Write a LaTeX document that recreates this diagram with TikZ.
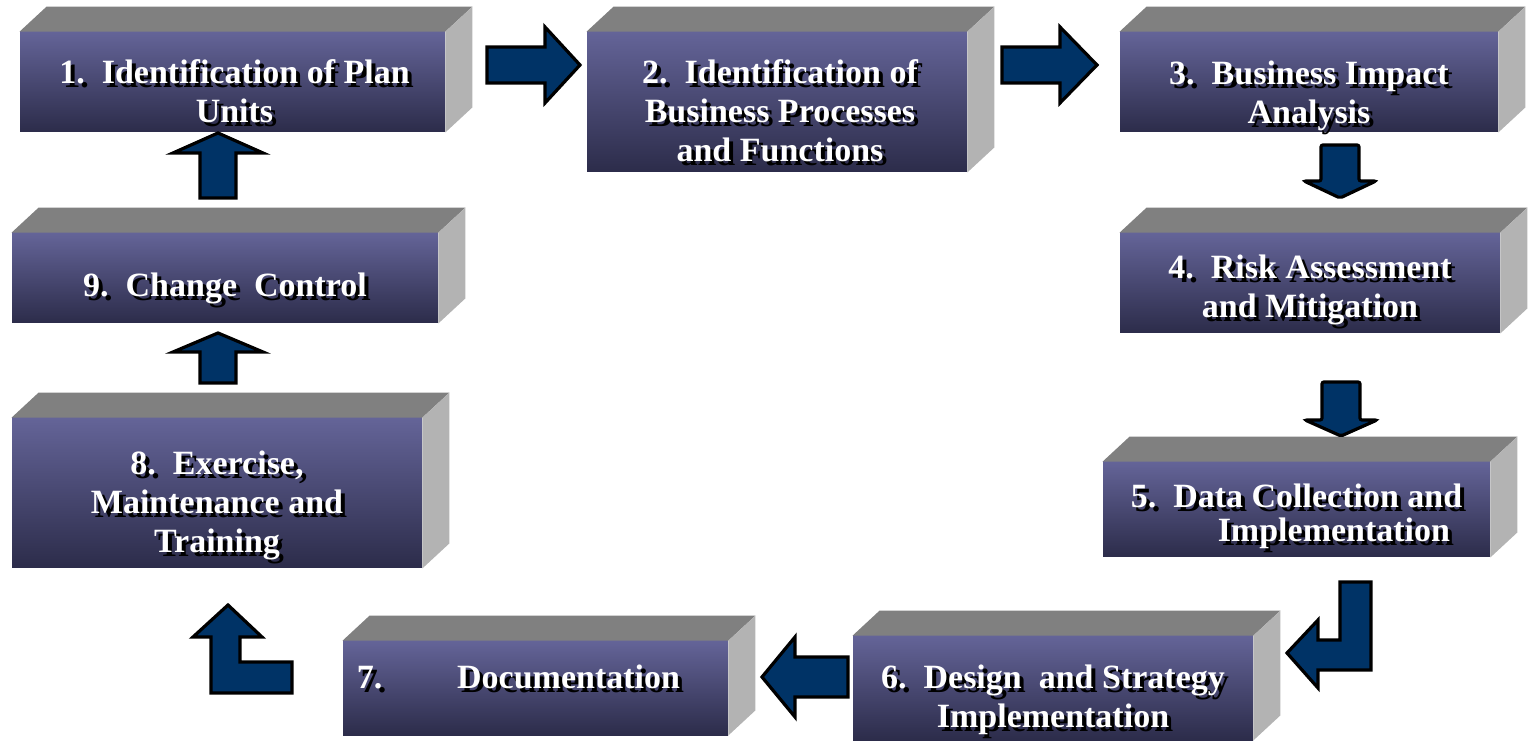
\documentclass[tikz,border=0pt]{standalone}
\usepackage{fontspec}
\setmainfont{Liberation Serif}
\usetikzlibrary{fit,calc}
\definecolor{facetop}{RGB}{100,100,152}
\definecolor{facebot}{RGB}{44,44,74}
\definecolor{topgray}{RGB}{128,128,128}
\definecolor{sidegray}{RGB}{179,179,179}
\definecolor{navy}{RGB}{0,51,102}
\tikzset{
  face/.style={inner sep=0pt, top color=facetop, bottom color=facebot, draw=none},
  txt/.style={text=white, font=\fontsize{17}{19.5}\selectfont\bfseries, align=center, inner sep=0pt},
  barrow/.style={fill=navy, draw=black, line width=1.6pt},
}
% top and right faces of a box
\newcommand\sides[1]{%
  \fill[topgray] (#1.north west) -- ++(27,-25) -- ($(#1.north east)+(27,-25)$) -- (#1.north east) -- cycle;
  \fill[sidegray] (#1.north east) -- ++(27,-25) -- ($(#1.south east)+(27,-25)$) -- (#1.south east) -- cycle;}
% white text with a black shadow
\newcommand\boxtext[3]{%
  \node[txt, text=black] (#1-sh) at ($(#1)+#2+(4,4)$) {#3};
  \node[txt] (#1-tx) at ($(#1)+#2$) {#3};}
\begin{document}
\begin{tikzpicture}[x=0.5pt,y=-0.5pt]
\useasboundingbox (0,0) rectangle (1537,742);
%
% Boxes
\node[face, fit={(20,32) (445,132)}]    (unit)   {};
\node[face, fit={(587,32) (967,172)}]   (proc)   {};
\node[face, fit={(1120,32) (1498,132)}] (bia)    {};
\node[face, fit={(1120,233) (1500,333)}] (risk)  {};
\node[face, fit={(1103,462) (1490,557)}] (data)  {};
\node[face, fit={(853,636) (1253,740)}] (design) {};
\node[face, fit={(343,641) (728,735)}]  (docu)   {};
\node[face, fit={(12,418) (422,568)}]   (exer)   {};
\node[face, fit={(12,233) (438,323)}]   (change) {};
\foreach \b in {unit,proc,bia,risk,data,design,docu,exer,change} \sides{\b};
%
% Texts
\boxtext{unit}{(2,9)}{1.\enspace Identification of Plan\\Units}
\boxtext{proc}{(3,9)}{2.\enspace Identification of\\Business Processes\\and Functions}
\boxtext{bia}{(0,14)}{3.\enspace Business Impact\\Analysis}
\boxtext{risk}{(0,7)}{4.\enspace Risk Assessment\\and Mitigation}
\boxtext{data}{(0,7)}{5.\enspace Data Collection and\\[-2.5pt]\hspace{2.2em}Implementation}
\boxtext{design}{(0,12)}{6.\enspace Design\enspace and Strategy\\Implementation}
\boxtext{docu}{(-17,-11)}{7.\hspace{2.2em}Documentation}
\boxtext{exer}{(0,12)}{8.\enspace Exercise,\\Maintenance and\\Training}
\boxtext{change}{(0,10)}{9.\enspace Change\enspace Control}
%
% Arrows
\draw[barrow, shift={(487,65)}] (0,-18) -- (58,-18) -- (58,-38) -- (93,0) -- (58,38) -- (58,18) -- (0,18) -- cycle;
\draw[barrow, shift={(1002,65)}] (0,-18) -- (58,-18) -- (58,-38) -- (95,0) -- (58,38) -- (58,18) -- (0,18) -- cycle;
\draw[barrow, rounded corners=1pt, shift={(1340,145)}] (-19,0) -- (19,0) -- (19,36) -- (36,36) -- (0,53) -- (-36,36) -- (-19,36) -- cycle;
\draw[barrow, rounded corners=1pt, shift={(1341,382)}] (-19,0) -- (19,0) -- (19,38) -- (36,38) -- (0,54) -- (-36,38) -- (-19,38) -- cycle;
\draw[barrow] (1287,653) -- (1318,620) -- (1318,640) -- (1340,640) -- (1340,582) -- (1371,582)
            -- (1371,670) -- (1318,670) -- (1318,688) -- cycle;
\draw[barrow, shift={(762,677)}] (0,0) -- (33,-40) -- (33,-20) -- (86,-20) -- (86,20) -- (33,20) -- (33,40) -- cycle;
\draw[barrow] (228,605) -- (262,637) -- (240,637) -- (240,662) -- (292,662)
            -- (292,693) -- (211,693) -- (211,637) -- (193,637) -- cycle;
\draw[barrow, shift={(218,333)}] (0,0) -- (45,19) -- (18,19) -- (18,50) -- (-18,50) -- (-18,19) -- (-45,19) -- cycle;
\draw[barrow, shift={(218,133)}] (0,0) -- (45,20) -- (18,20) -- (18,65) -- (-18,65) -- (-18,20) -- (-45,20) -- cycle;
%
\end{tikzpicture}
\end{document}
